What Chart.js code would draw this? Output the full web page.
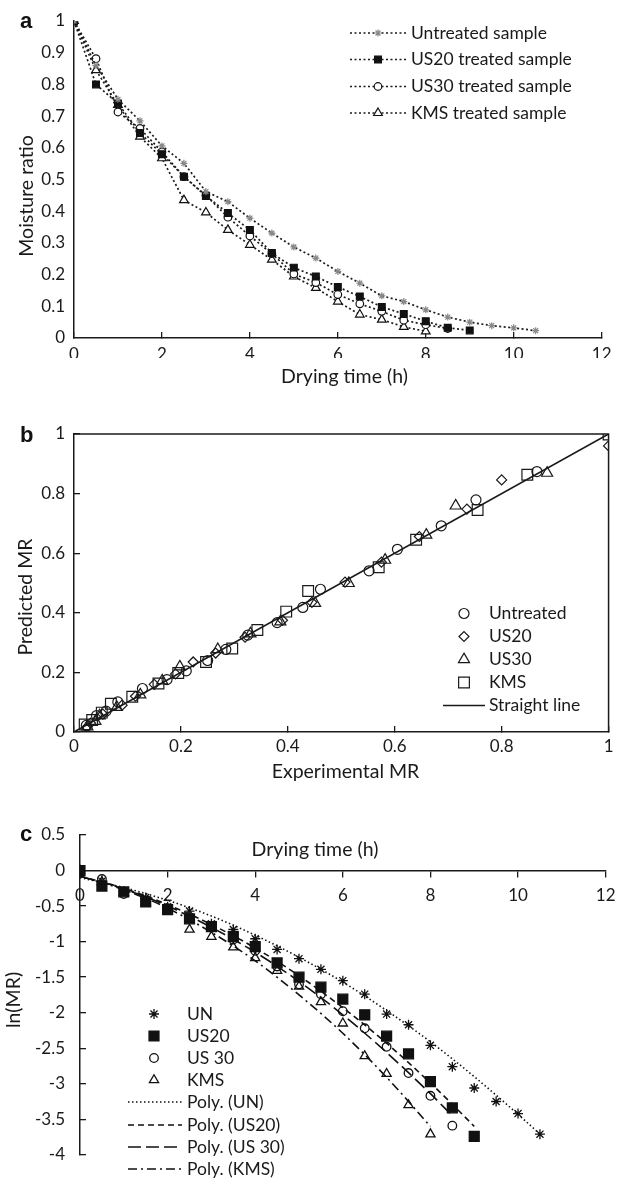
<!DOCTYPE html>
<html>
<head>
<meta charset="utf-8">
<script src="https://cdn.jsdelivr.net/npm/chart.js@4.4.0/dist/chart.umd.min.js"></script>
<style>
  html, body { margin: 0; padding: 0; background: #fff; }
  body { width: 624px; height: 1186px; position: relative; overflow: hidden; }
  canvas { position: absolute; left: 0; top: 0; }
  .tag { position: absolute; font: bold 22px "Liberation Sans", Arial, sans-serif; color: #111; line-height: 1; }
</style>
</head>
<body>
<canvas id="chartA" width="624" height="1186"></canvas>
<canvas id="chartB" width="624" height="1186"></canvas>
<canvas id="chartC" width="624" height="1186"></canvas>
<div class="tag" style="left:20px;top:10px">a</div>
<div class="tag" style="left:20px;top:424px">b</div>
<div class="tag" style="left:20px;top:823px">c</div>
<script>
// ---------- panel a: moisture ratio vs drying time ----------
const timesA = [0, 0.5, 1, 1.5, 2, 2.5, 3, 3.5, 4, 4.5, 5, 5.5, 6, 6.5, 7, 7.5, 8, 8.5, 9, 9.5, 10, 10.5];
const mrUntreated = [1, 0.86, 0.753, 0.685, 0.606, 0.551, 0.462, 0.43, 0.378, 0.331, 0.287, 0.252, 0.21, 0.173, 0.133, 0.115, 0.089, 0.066, 0.05, 0.039, 0.032, 0.023];
const mrUS20 = [1, 0.8, 0.74, 0.647, 0.58, 0.509, 0.448, 0.394, 0.341, 0.268, 0.222, 0.194, 0.161, 0.131, 0.098, 0.076, 0.053, 0.032, 0.024];
const mrUS30 = [1, 0.881, 0.713, 0.661, 0.587, 0.509, 0.45, 0.381, 0.322, 0.266, 0.202, 0.175, 0.137, 0.108, 0.084, 0.056, 0.042, 0.03];
const mrKMS = [1, 0.845, 0.735, 0.635, 0.567, 0.435, 0.396, 0.341, 0.294, 0.247, 0.194, 0.158, 0.115, 0.074, 0.058, 0.035, 0.021];

// ---------- panel b: predicted vs experimental MR ----------
const expUntreated = [0.023, 0.042, 0.06, 0.082, 0.128, 0.174, 0.21, 0.25, 0.284, 0.325, 0.38, 0.428, 0.461, 0.552, 0.605, 0.687, 0.752, 0.866];
const predUntreated = [0.022, 0.055, 0.07, 0.101, 0.146, 0.176, 0.205, 0.24, 0.277, 0.325, 0.367, 0.418, 0.479, 0.541, 0.613, 0.692, 0.779, 0.874];
const expUS20 = [0.024, 0.031, 0.054, 0.09, 0.115, 0.15, 0.19, 0.223, 0.265, 0.32, 0.39, 0.445, 0.507, 0.575, 0.646, 0.735, 0.8, 1.0];
const predUS20 = [0.016, 0.03, 0.06, 0.09, 0.12, 0.16, 0.195, 0.235, 0.265, 0.318, 0.375, 0.435, 0.503, 0.57, 0.656, 0.748, 0.846, 0.96];
const expUS30 = [0.025, 0.04, 0.048, 0.08, 0.124, 0.165, 0.198, 0.269, 0.33, 0.386, 0.451, 0.514, 0.582, 0.659, 0.714, 0.885];
const predUS30 = [0.018, 0.036, 0.055, 0.083, 0.125, 0.172, 0.219, 0.277, 0.33, 0.37, 0.432, 0.499, 0.577, 0.661, 0.759, 0.869];
const expKMS = [0.02, 0.034, 0.052, 0.069, 0.109, 0.158, 0.195, 0.247, 0.296, 0.343, 0.397, 0.438, 0.57, 0.64, 0.755, 0.848, 1.0];
const predKMS = [0.025, 0.04, 0.065, 0.095, 0.118, 0.163, 0.198, 0.235, 0.28, 0.342, 0.404, 0.473, 0.553, 0.645, 0.745, 0.863, 0.998];
const lineExp = [0, 1];
const linePred = [0, 1];

// ---------- panel c: ln(MR) vs drying time ----------
const lnUN = [0, -0.15, -0.29, -0.38, -0.51, -0.57, -0.75, -0.83, -0.96, -1.11, -1.24, -1.39, -1.55, -1.74, -2.02, -2.17, -2.46, -2.76, -3.06, -3.25, -3.42, -3.71];
const lnUS20 = [0, -0.22, -0.3, -0.44, -0.55, -0.68, -0.79, -0.93, -1.07, -1.3, -1.5, -1.64, -1.81, -2.03, -2.33, -2.58, -2.97, -3.34, -3.74];
const lnUS30 = [0, -0.12, -0.33, -0.42, -0.53, -0.67, -0.8, -0.97, -1.13, -1.35, -1.6, -1.74, -1.98, -2.22, -2.48, -2.85, -3.17, -3.59];
const lnKMS = [0, -0.16, -0.31, -0.45, -0.57, -0.83, -0.93, -1.08, -1.23, -1.41, -1.63, -1.85, -2.15, -2.61, -2.86, -3.3, -3.71];
const polyTimes = [0, 1, 2, 3, 4, 5, 6, 7, 8, 8.5, 9, 10, 10.5];
const polyTimesUS30 = [0, 1, 2, 3, 4, 5, 6, 7, 8, 8.5];
const polyUN = [-0.1, -0.24, -0.42, -0.64, -0.91, -1.22, -1.57, -1.97, -2.41, -2.65, -2.9, -3.43, -3.71];
const polyUS20 = [-0.08, -0.25, -0.48, -0.76, -1.09, -1.48, -1.93, -2.43, -2.99, -3.29, -3.6];
const polyUS30 = [-0.08, -0.26, -0.5, -0.8, -1.15, -1.56, -2.03, -2.56, -3.14, -3.45];
const polyKMS = [-0.08, -0.27, -0.53, -0.87, -1.27, -1.75, -2.29, -2.91, -3.6];

const FONT = 'Lato, "Open Sans", sans-serif';
const INK = '#1a1a1a';
Chart.defaults.font.family = FONT;
Chart.defaults.color = INK;
Chart.defaults.animation = false;

function pts(xs, ys) {
  return ys.map((y, i) => ({ x: xs[i], y: y }));
}
function fmt(v) {
  return String(Math.round(v * 10) / 10);
}

// draws the in-plot legends, axis titles and the panel b frame
const overlay = {
  id: 'overlay',
  afterDraw(chart, args, opts) {
    const ctx = chart.ctx;
    ctx.save();
    (opts.items || []).forEach(it => {
      const ds = chart.data.datasets[it.ds];
      if (it.line) {
        ctx.beginPath();
        ctx.setLineDash(ds.borderDash || []);
        ctx.lineWidth = ds.borderWidth;
        ctx.strokeStyle = ds.borderColor;
        ctx.moveTo(it.line[0], it.y);
        ctx.lineTo(it.line[1], it.y);
        ctx.stroke();
      }
      if (it.px != null) {
        ctx.setLineDash([]);
        ctx.fillStyle = ds.pointBackgroundColor;
        ctx.strokeStyle = ds.pointBorderColor;
        ctx.lineWidth = ds.pointBorderWidth;
        Chart.helpers.drawPoint(ctx, {
          pointStyle: ds.pointStyle, radius: ds.pointRadius,
          borderWidth: ds.pointBorderWidth, rotation: 0
        }, it.px, it.y);
      }
      ctx.setLineDash([]);
      ctx.fillStyle = INK;
      ctx.font = '17.5px ' + FONT;
      ctx.textAlign = 'left';
      ctx.textBaseline = 'middle';
      ctx.fillText(ds.label, it.tx, it.y);
    });
    (opts.titles || []).forEach(t => {
      ctx.save();
      ctx.translate(t.x, t.y);
      if (t.rot) ctx.rotate(-Math.PI / 2);
      ctx.fillStyle = INK;
      ctx.font = '19.5px ' + FONT;
      ctx.textAlign = 'center';
      ctx.textBaseline = 'alphabetic';
      ctx.fillText(t.text, 0, 0);
      ctx.restore();
    });
    if (opts.frame) {
      const a = chart.chartArea;
      ctx.beginPath();
      ctx.setLineDash([]);
      ctx.strokeStyle = INK;
      ctx.lineWidth = 1.5;
      ctx.moveTo(a.left, a.top);
      ctx.lineTo(a.right, a.top);
      ctx.lineTo(a.right, a.bottom);
      ctx.stroke();
    }
    ctx.restore();
  }
};

function axisBase() {
  return {
    type: 'linear',
    border: { color: INK, width: 1.5 },
    grid: { drawOnChartArea: false, color: INK, lineWidth: 1.3 },
    ticks: { font: { size: 17 }, color: INK, callback: fmt }
  };
}

/* ---------- PANEL A ---------- */
const xA = axisBase();
xA.min = 0; xA.max = 12;
xA.ticks.stepSize = 2; xA.ticks.padding = 12.5;
xA.grid.tickLength = -6;
xA.afterFit = s => { s.height = 20; };
const yA = axisBase();
yA.min = 0; yA.max = 1;
yA.ticks.stepSize = 0.1; yA.ticks.padding = 9;
yA.grid.drawTicks = false;
yA.afterFit = s => { s.width = 74; };

function dryLine(label, xs, ys, style, radius, fill, stroke) {
  return {
    label, data: pts(xs, ys), showLine: true,
    borderColor: INK, borderWidth: 1.7, borderDash: [2, 2.5],
    pointStyle: style, pointRadius: radius,
    pointBackgroundColor: fill, pointBorderColor: stroke, pointBorderWidth: 1.2
  };
}

new Chart(document.getElementById('chartA'), {
  type: 'scatter',
  data: {
    datasets: [
      dryLine('Untreated sample', timesA, mrUntreated, 'star', 3.5, '#888', '#888'),
      dryLine('US20 treated sample', timesA, mrUS20, 'rect', 4.8, '#111', '#111'),
      dryLine('US30 treated sample', timesA, mrUS30, 'circle', 3.8, '#fff', '#111'),
      dryLine('KMS treated sample', timesA, mrKMS, 'triangle', 5, '#fff', '#111')
    ]
  },
  options: {
    responsive: false,
    layout: { padding: { top: 21, right: 9, bottom: 828, left: 0 } },
    scales: { x: xA, y: yA },
    plugins: {
      legend: { display: false },
      tooltip: { enabled: false },
      overlay: {
        items: [
          { ds: 0, line: [350, 407], px: 378, tx: 411, y: 33 },
          { ds: 1, line: [350, 407], px: 378, tx: 411, y: 59.5 },
          { ds: 2, line: [350, 407], px: 378, tx: 411, y: 86.5 },
          { ds: 3, line: [350, 407], px: 378, tx: 411, y: 113 }
        ],
        titles: [
          { text: 'Drying time (h)', x: 344.5, y: 383 },
          { text: 'Moisture ratio', x: 33, y: 196, rot: true }
        ]
      }
    }
  },
  plugins: [overlay]
});

/* ---------- PANEL B ---------- */
const xB = axisBase();
xB.min = 0; xB.max = 1;
xB.ticks.stepSize = 0.2; xB.ticks.padding = 10.5;
xB.grid.tickLength = -6;
xB.afterFit = s => { s.height = 20; };
const yB = axisBase();
yB.min = 0; yB.max = 1;
yB.ticks.stepSize = 0.2; yB.ticks.padding = 15;
yB.grid.tickLength = -6;
yB.afterFit = s => { s.width = 74; };

function fitPoints(label, xs, ys, style, radius) {
  return {
    label, data: pts(xs, ys), showLine: false,
    pointStyle: style, pointRadius: radius,
    pointBackgroundColor: 'rgba(0,0,0,0)', pointBorderColor: INK, pointBorderWidth: 1.2
  };
}

new Chart(document.getElementById('chartB'), {
  type: 'scatter',
  data: {
    datasets: [
      fitPoints('Untreated', expUntreated, predUntreated, 'circle', 5),
      fitPoints('US20', expUS20, predUS20, 'rectRot', 5),
      fitPoints('US30', expUS30, predUS30, 'triangle', 6.4),
      fitPoints('KMS', expKMS, predKMS, 'rect', 7.6),
      {
        label: 'Straight line', data: pts(lineExp, linePred), showLine: true,
        borderColor: INK, borderWidth: 1.6, pointRadius: 0
      }
    ]
  },
  options: {
    responsive: false,
    layout: { padding: { top: 434, right: 7, bottom: 434, left: 0 } },
    scales: { x: xB, y: yB },
    plugins: {
      legend: { display: false },
      tooltip: { enabled: false },
      overlay: {
        frame: true,
        items: [
          { ds: 0, px: 464, tx: 489, y: 613.5 },
          { ds: 1, px: 464, tx: 489, y: 636.5 },
          { ds: 2, px: 464, tx: 489, y: 659.5 },
          { ds: 3, px: 464, tx: 489, y: 682.5 },
          { ds: 4, line: [443, 485], tx: 489, y: 705.5 }
        ],
        titles: [
          { text: 'Experimental MR', x: 345.5, y: 778 },
          { text: 'Predicted MR', x: 32, y: 597, rot: true }
        ]
      }
    }
  },
  plugins: [overlay]
});

/* ---------- PANEL C ---------- */
const xC = axisBase();
xC.min = 0; xC.max = 12;
xC.position = { y: 0 };
xC.ticks.stepSize = 2; xC.ticks.padding = 8.5;
xC.grid.tickLength = 6;
const yC = axisBase();
yC.min = -4; yC.max = 0.5;
yC.ticks.stepSize = 0.5; yC.ticks.padding = 21;
yC.grid.tickLength = -6;
yC.afterFit = s => { s.width = 80; };

function lnPoints(label, xs, ys, style, radius, fill) {
  return {
    label, data: pts(xs, ys), showLine: false,
    pointStyle: style, pointRadius: radius,
    pointBackgroundColor: fill, pointBorderColor: '#111', pointBorderWidth: 1.3
  };
}
function polyLine(label, xs, ys, dash) {
  return {
    label, data: pts(xs, ys), showLine: true,
    borderColor: '#111', borderWidth: 1.6, borderDash: dash,
    cubicInterpolationMode: 'monotone', pointRadius: 0
  };
}

new Chart(document.getElementById('chartC'), {
  type: 'scatter',
  data: {
    datasets: [
      lnPoints('UN', timesA, lnUN, 'star', 5, '#111'),
      lnPoints('US20', timesA, lnUS20, 'rect', 7, '#111'),
      lnPoints('US 30', timesA, lnUS30, 'circle', 4.3, 'rgba(0,0,0,0)'),
      lnPoints('KMS', timesA, lnKMS, 'triangle', 5.3, 'rgba(0,0,0,0)'),
      polyLine('Poly. (UN)', polyTimes, polyUN, [1.5, 2.5]),
      polyLine('Poly. (US20)', polyTimes, polyUS20, [6, 4]),
      polyLine('Poly. (US 30)', polyTimesUS30, polyUS30, [13, 5]),
      polyLine('Poly. (KMS)', polyTimes, polyKMS, [9, 4, 2, 4])
    ]
  },
  options: {
    responsive: false,
    layout: { padding: { top: 835, right: 18, bottom: 6, left: 0 } },
    scales: { x: xC, y: yC },
    plugins: {
      legend: { display: false },
      tooltip: { enabled: false },
      overlay: {
        items: [
          { ds: 0, px: 154, tx: 187, y: 1014 },
          { ds: 1, px: 154, tx: 187, y: 1036 },
          { ds: 2, px: 154, tx: 187, y: 1058 },
          { ds: 3, px: 154, tx: 187, y: 1080 },
          { ds: 4, line: [128, 182], tx: 187, y: 1102 },
          { ds: 5, line: [128, 182], tx: 187, y: 1125 },
          { ds: 6, line: [128, 182], tx: 187, y: 1147 },
          { ds: 7, line: [128, 182], tx: 187, y: 1169 }
        ],
        titles: [
          { text: 'Drying time (h)', x: 315, y: 856 },
          { text: 'ln(MR)', x: 20, y: 1000, rot: true }
        ]
      }
    }
  },
  plugins: [overlay]
});
</script>
</body>
</html>
